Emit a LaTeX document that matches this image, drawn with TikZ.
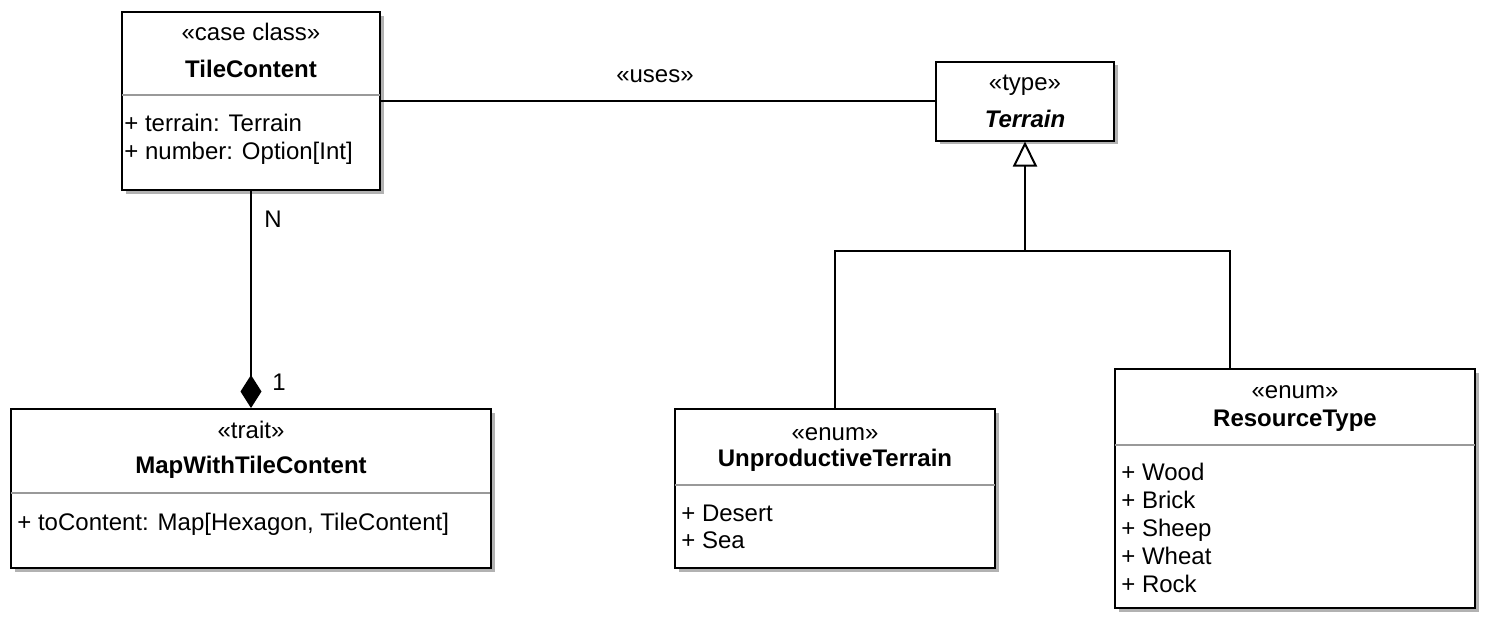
\documentclass[tikz,border=0pt]{standalone}
\usepackage{fontspec}
\setmainfont{Liberation Sans}
\usetikzlibrary{arrows.meta, shadows}

\begin{document}
\begin{tikzpicture}[
  x=0.5pt, y=-0.5pt,
  cls/.style={rectangle, draw=black, line width=1pt, fill=white, inner sep=0pt,
              drop shadow={shadow xshift=1.9pt, shadow yshift=-1.9pt,
                           fill=black!30, opacity=1}},
  stereo/.style={anchor=base, inner sep=0pt, font=\fontsize{12}{14}\selectfont},
  cname/.style={stereo, font=\fontsize{12}{14}\selectfont\bfseries},
  attr/.style={anchor=base west, inner sep=0pt, font=\fontsize{12}{14}\selectfont},
  sep/.style={draw=black!40, line width=0.6pt},
  assoc/.style={line width=1pt},
  comp/.style={line width=1pt, -{Diamond[length=16.5pt, width=10.5pt]}},
  gen/.style={line width=1pt, -{Triangle[open, length=12.5pt, width=12pt]}}
]
  \useasboundingbox (0,0) rectangle (1490,628);

  % class boxes
  \node[cls, minimum width=129pt, minimum height=89pt]   (tile)    at (251,101)   {};
  \node[cls, minimum width=89pt,  minimum height=39.5pt] (terrain) at (1025,101)  {};
  \node[cls, minimum width=240pt, minimum height=79.5pt] (map)     at (251,488.5) {};
  \node[cls, minimum width=160pt, minimum height=79.5pt] (unprod)  at (835,488.5) {};
  \node[cls, minimum width=180pt, minimum height=119.5pt] (res)    at (1295,488.5) {};

  % TileContent
  \node[stereo] (tileS) at (251,40) {«case class»};
  \node[cname]  (tileN) at (251,77) {TileContent};
  \draw[sep] (122,95) -- (380,95);
  \node[attr] (tileA1) at (124,131) {+ terrain: Terrain};
  \node[attr] (tileA2) at (124,159) {+ number: Option[Int]};

  % Terrain
  \node[stereo] (terrainS) at (1025,90) {«type»};
  \node[cname, font=\fontsize{12}{14}\selectfont\bfseries\itshape] (terrainN) at (1025,127) {Terrain};

  % MapWithTileContent
  \node[stereo] (mapS) at (251,438) {«trait»};
  \node[cname]  (mapN) at (251,473) {MapWithTileContent};
  \draw[sep] (11,493) -- (490,493);
  \node[attr] (mapA1) at (17,530) {+ toContent: Map[Hexagon, TileContent]};

  % UnproductiveTerrain
  \node[stereo] (unprodS) at (835,440) {«enum»};
  \node[cname]  (unprodN) at (835,466) {UnproductiveTerrain};
  \draw[sep] (675,485) -- (995,485);
  \node[attr] (unprodA1) at (681,521) {+ Desert};
  \node[attr] (unprodA2) at (681,548) {+ Sea};

  % ResourceType
  \node[stereo] (resS) at (1295,398) {«enum»};
  \node[cname]  (resN) at (1295,426) {ResourceType};
  \draw[sep] (1115,445) -- (1475,445);
  \node[attr] (resA1) at (1121,480) {+ Wood};
  \node[attr] (resA2) at (1121,508) {+ Brick};
  \node[attr] (resA3) at (1121,536) {+ Sheep};
  \node[attr] (resA4) at (1121,564) {+ Wheat};
  \node[attr] (resA5) at (1121,592) {+ Rock};

  % associations
  \draw[assoc] (tile) -- (terrain);
  \node[stereo] (uses) at (655,82) {«uses»};

  \draw[comp] (tile.south) -- (map.north);
  \node[attr]   (multN) at (264,227) {N};
  \node[stereo] (mult1) at (279,390) {1};

  % generalization
  \coordinate (gj) at (1025,251);
  \coordinate (gl) at (835,251);
  \coordinate (gr) at (1230,251);
  \draw[assoc] (unprod.north) -- (gl) -- (gr) -- (gr |- res.north);
  \draw[gen] (gj) -- (terrain.south);
\end{tikzpicture}
\end{document}
